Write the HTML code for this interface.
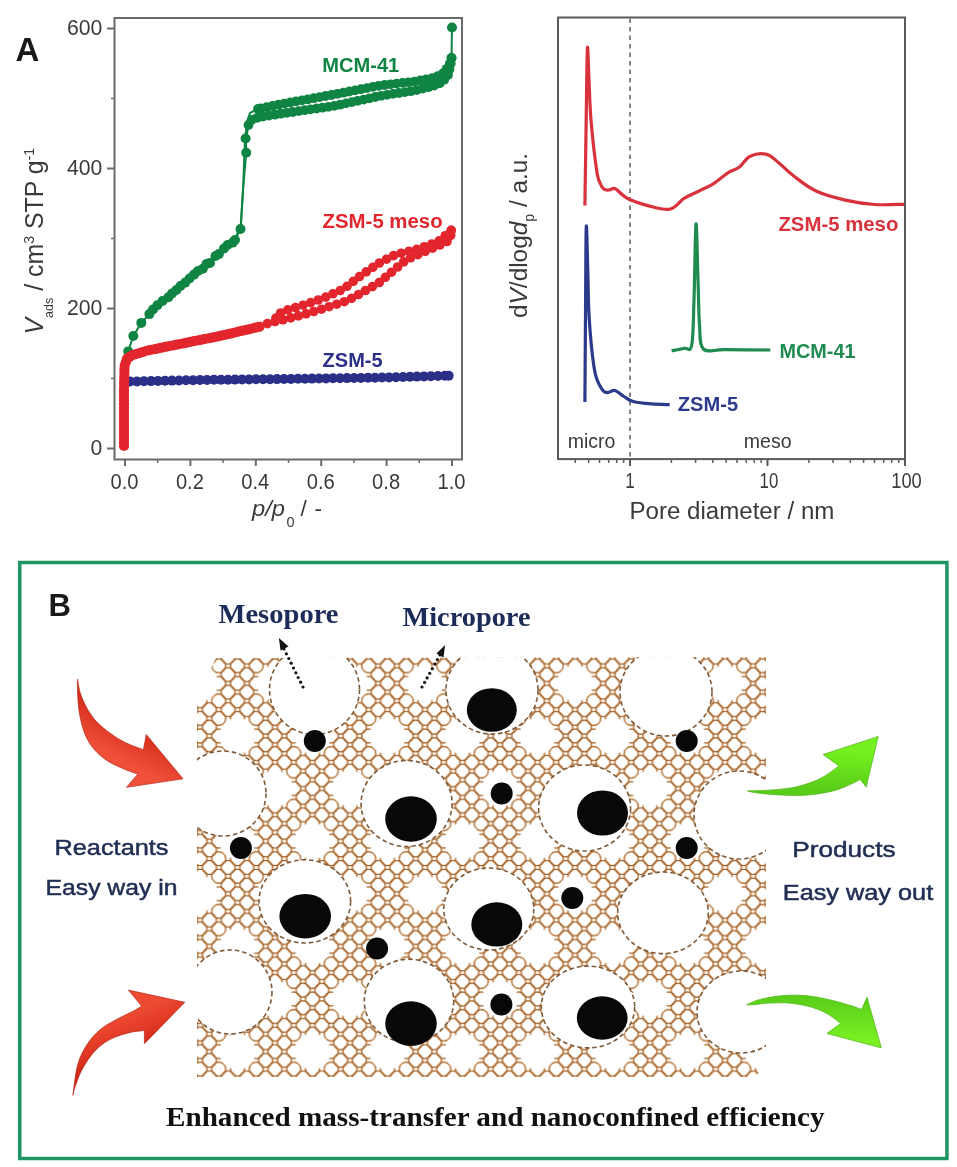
<!DOCTYPE html>
<html><head><meta charset="utf-8"><style>
html,body{margin:0;padding:0;background:#fff;width:957px;height:1167px;overflow:hidden;}
svg{display:block;filter:blur(0.35px);}
text{font-family:"Liberation Sans",sans-serif;}
.serif{font-family:"Liberation Serif",serif;}
</style></head><body>
<svg width="957" height="1167" viewBox="0 0 957 1167">
<defs><pattern id="mesh" patternUnits="userSpaceOnUse" x="387.5" y="736" width="75.0" height="105.2"><g fill="none" stroke="#f5c688" stroke-width="1.6"><circle cx="28.12" cy="-8.77" r="7.0"/><circle cx="46.88" cy="-8.77" r="7.0"/><circle cx="18.75" cy="0.00" r="7.0"/><circle cx="37.50" cy="0.00" r="7.0"/><circle cx="56.25" cy="0.00" r="7.0"/><circle cx="28.12" cy="8.77" r="7.0"/><circle cx="46.88" cy="8.77" r="7.0"/><circle cx="0.00" cy="17.53" r="7.0"/><circle cx="18.75" cy="17.53" r="7.0"/><circle cx="37.50" cy="17.53" r="7.0"/><circle cx="56.25" cy="17.53" r="7.0"/><circle cx="75.00" cy="17.53" r="7.0"/><circle cx="-9.38" cy="26.30" r="7.0"/><circle cx="9.38" cy="26.30" r="7.0"/><circle cx="28.12" cy="26.30" r="7.0"/><circle cx="46.88" cy="26.30" r="7.0"/><circle cx="65.62" cy="26.30" r="7.0"/><circle cx="84.38" cy="26.30" r="7.0"/><circle cx="0.00" cy="35.07" r="7.0"/><circle cx="18.75" cy="35.07" r="7.0"/><circle cx="37.50" cy="35.07" r="7.0"/><circle cx="56.25" cy="35.07" r="7.0"/><circle cx="75.00" cy="35.07" r="7.0"/><circle cx="-9.38" cy="43.83" r="7.0"/><circle cx="9.38" cy="43.83" r="7.0"/><circle cx="65.62" cy="43.83" r="7.0"/><circle cx="84.38" cy="43.83" r="7.0"/><circle cx="0.00" cy="52.60" r="7.0"/><circle cx="18.75" cy="52.60" r="7.0"/><circle cx="56.25" cy="52.60" r="7.0"/><circle cx="75.00" cy="52.60" r="7.0"/><circle cx="-9.38" cy="61.37" r="7.0"/><circle cx="9.38" cy="61.37" r="7.0"/><circle cx="65.62" cy="61.37" r="7.0"/><circle cx="84.38" cy="61.37" r="7.0"/><circle cx="0.00" cy="70.13" r="7.0"/><circle cx="18.75" cy="70.13" r="7.0"/><circle cx="37.50" cy="70.13" r="7.0"/><circle cx="56.25" cy="70.13" r="7.0"/><circle cx="75.00" cy="70.13" r="7.0"/><circle cx="-9.38" cy="78.90" r="7.0"/><circle cx="9.38" cy="78.90" r="7.0"/><circle cx="28.12" cy="78.90" r="7.0"/><circle cx="46.88" cy="78.90" r="7.0"/><circle cx="65.62" cy="78.90" r="7.0"/><circle cx="84.38" cy="78.90" r="7.0"/><circle cx="0.00" cy="87.67" r="7.0"/><circle cx="18.75" cy="87.67" r="7.0"/><circle cx="37.50" cy="87.67" r="7.0"/><circle cx="56.25" cy="87.67" r="7.0"/><circle cx="75.00" cy="87.67" r="7.0"/><circle cx="28.12" cy="96.43" r="7.0"/><circle cx="46.88" cy="96.43" r="7.0"/><circle cx="18.75" cy="105.20" r="7.0"/><circle cx="37.50" cy="105.20" r="7.0"/><circle cx="56.25" cy="105.20" r="7.0"/><circle cx="28.12" cy="113.97" r="7.0"/><circle cx="46.88" cy="113.97" r="7.0"/></g><g fill="none" stroke="#8c4a1e" stroke-width="0.95"><circle cx="28.12" cy="-8.77" r="7.0"/><circle cx="46.88" cy="-8.77" r="7.0"/><circle cx="18.75" cy="0.00" r="7.0"/><circle cx="37.50" cy="0.00" r="7.0"/><circle cx="56.25" cy="0.00" r="7.0"/><circle cx="28.12" cy="8.77" r="7.0"/><circle cx="46.88" cy="8.77" r="7.0"/><circle cx="0.00" cy="17.53" r="7.0"/><circle cx="18.75" cy="17.53" r="7.0"/><circle cx="37.50" cy="17.53" r="7.0"/><circle cx="56.25" cy="17.53" r="7.0"/><circle cx="75.00" cy="17.53" r="7.0"/><circle cx="-9.38" cy="26.30" r="7.0"/><circle cx="9.38" cy="26.30" r="7.0"/><circle cx="28.12" cy="26.30" r="7.0"/><circle cx="46.88" cy="26.30" r="7.0"/><circle cx="65.62" cy="26.30" r="7.0"/><circle cx="84.38" cy="26.30" r="7.0"/><circle cx="0.00" cy="35.07" r="7.0"/><circle cx="18.75" cy="35.07" r="7.0"/><circle cx="37.50" cy="35.07" r="7.0"/><circle cx="56.25" cy="35.07" r="7.0"/><circle cx="75.00" cy="35.07" r="7.0"/><circle cx="-9.38" cy="43.83" r="7.0"/><circle cx="9.38" cy="43.83" r="7.0"/><circle cx="65.62" cy="43.83" r="7.0"/><circle cx="84.38" cy="43.83" r="7.0"/><circle cx="0.00" cy="52.60" r="7.0"/><circle cx="18.75" cy="52.60" r="7.0"/><circle cx="56.25" cy="52.60" r="7.0"/><circle cx="75.00" cy="52.60" r="7.0"/><circle cx="-9.38" cy="61.37" r="7.0"/><circle cx="9.38" cy="61.37" r="7.0"/><circle cx="65.62" cy="61.37" r="7.0"/><circle cx="84.38" cy="61.37" r="7.0"/><circle cx="0.00" cy="70.13" r="7.0"/><circle cx="18.75" cy="70.13" r="7.0"/><circle cx="37.50" cy="70.13" r="7.0"/><circle cx="56.25" cy="70.13" r="7.0"/><circle cx="75.00" cy="70.13" r="7.0"/><circle cx="-9.38" cy="78.90" r="7.0"/><circle cx="9.38" cy="78.90" r="7.0"/><circle cx="28.12" cy="78.90" r="7.0"/><circle cx="46.88" cy="78.90" r="7.0"/><circle cx="65.62" cy="78.90" r="7.0"/><circle cx="84.38" cy="78.90" r="7.0"/><circle cx="0.00" cy="87.67" r="7.0"/><circle cx="18.75" cy="87.67" r="7.0"/><circle cx="37.50" cy="87.67" r="7.0"/><circle cx="56.25" cy="87.67" r="7.0"/><circle cx="75.00" cy="87.67" r="7.0"/><circle cx="28.12" cy="96.43" r="7.0"/><circle cx="46.88" cy="96.43" r="7.0"/><circle cx="18.75" cy="105.20" r="7.0"/><circle cx="37.50" cy="105.20" r="7.0"/><circle cx="56.25" cy="105.20" r="7.0"/><circle cx="28.12" cy="113.97" r="7.0"/><circle cx="46.88" cy="113.97" r="7.0"/></g><g fill="#fff"><circle cx="0" cy="0" r="18"/><circle cx="75" cy="0" r="18"/><circle cx="0" cy="105.2" r="18"/><circle cx="75" cy="105.2" r="18"/><circle cx="37.5" cy="52.6" r="18"/></g></pattern><linearGradient id="rg1" x1="0" y1="0" x2="1" y2="1"><stop offset="0" stop-color="#d62a1e"/><stop offset="0.5" stop-color="#f0462e"/><stop offset="1" stop-color="#e23a26"/></linearGradient><linearGradient id="gg1" x1="0" y1="0" x2="1" y2="1"><stop offset="0" stop-color="#5bd41a"/><stop offset="0.5" stop-color="#7df22a"/><stop offset="1" stop-color="#4fc814"/></linearGradient><clipPath id="meshclip"><path d="M216,658 L766,657 L766,1060 L756,1077 L197,1077 L197,702 L204,684 L211,668 Z"/></clipPath><linearGradient id="ra1g" x1="0.3" y1="0.2" x2="0.1" y2="0.6"><stop offset="0" stop-color="#cf2414"/><stop offset="1" stop-color="#f0503a"/></linearGradient><linearGradient id="ra2g" x1="0.2" y1="0.35" x2="0.35" y2="0.7"><stop offset="0" stop-color="#ee4a32"/><stop offset="1" stop-color="#d02616"/></linearGradient><linearGradient id="ga1g" x1="0.5" y1="0.2" x2="0.4" y2="0.9"><stop offset="0" stop-color="#76f01e"/><stop offset="1" stop-color="#58cc18"/></linearGradient><linearGradient id="ga2g" x1="0.5" y1="0" x2="0.5" y2="0.9"><stop offset="0" stop-color="#58cc18"/><stop offset="1" stop-color="#7cf224"/></linearGradient></defs>
<rect x="114.5" y="18" width="347.5" height="441.5" fill="none" stroke="#6a6a6a" stroke-width="2"/>
<line x1="107" y1="448.5" x2="114" y2="448.5" stroke="#6a6a6a" stroke-width="2"/>
<text x="102.3" y="454.9" text-anchor="end" font-size="22.5" fill="#3a3a3a" textLength="11.8" lengthAdjust="spacingAndGlyphs">0</text>
<line x1="107" y1="308.5" x2="114" y2="308.5" stroke="#6a6a6a" stroke-width="2"/>
<text x="102.3" y="314.9" text-anchor="end" font-size="22.5" fill="#3a3a3a" textLength="35.4" lengthAdjust="spacingAndGlyphs">200</text>
<line x1="107" y1="168.5" x2="114" y2="168.5" stroke="#6a6a6a" stroke-width="2"/>
<text x="102.3" y="174.9" text-anchor="end" font-size="22.5" fill="#3a3a3a" textLength="35.4" lengthAdjust="spacingAndGlyphs">400</text>
<line x1="107" y1="28.5" x2="114" y2="28.5" stroke="#6a6a6a" stroke-width="2"/>
<text x="102.3" y="34.9" text-anchor="end" font-size="22.5" fill="#3a3a3a" textLength="35.4" lengthAdjust="spacingAndGlyphs">600</text>
<line x1="111" y1="378.5" x2="114" y2="378.5" stroke="#6a6a6a" stroke-width="1.5"/>
<line x1="111" y1="238.5" x2="114" y2="238.5" stroke="#6a6a6a" stroke-width="1.5"/>
<line x1="111" y1="98.5" x2="114" y2="98.5" stroke="#6a6a6a" stroke-width="1.5"/>
<line x1="125.0" y1="460" x2="125.0" y2="466" stroke="#6a6a6a" stroke-width="2"/>
<text x="124.5" y="488.6" text-anchor="middle" font-size="22.5" fill="#3a3a3a" textLength="28" lengthAdjust="spacingAndGlyphs">0.0</text>
<line x1="157.7" y1="460" x2="157.7" y2="463" stroke="#6a6a6a" stroke-width="1.5"/>
<line x1="190.4" y1="460" x2="190.4" y2="466" stroke="#6a6a6a" stroke-width="2"/>
<text x="189.9" y="488.6" text-anchor="middle" font-size="22.5" fill="#3a3a3a" textLength="28" lengthAdjust="spacingAndGlyphs">0.2</text>
<line x1="223.1" y1="460" x2="223.1" y2="463" stroke="#6a6a6a" stroke-width="1.5"/>
<line x1="255.8" y1="460" x2="255.8" y2="466" stroke="#6a6a6a" stroke-width="2"/>
<text x="255.3" y="488.6" text-anchor="middle" font-size="22.5" fill="#3a3a3a" textLength="28" lengthAdjust="spacingAndGlyphs">0.4</text>
<line x1="288.5" y1="460" x2="288.5" y2="463" stroke="#6a6a6a" stroke-width="1.5"/>
<line x1="321.2" y1="460" x2="321.2" y2="466" stroke="#6a6a6a" stroke-width="2"/>
<text x="320.7" y="488.6" text-anchor="middle" font-size="22.5" fill="#3a3a3a" textLength="28" lengthAdjust="spacingAndGlyphs">0.6</text>
<line x1="353.9" y1="460" x2="353.9" y2="463" stroke="#6a6a6a" stroke-width="1.5"/>
<line x1="386.6" y1="460" x2="386.6" y2="466" stroke="#6a6a6a" stroke-width="2"/>
<text x="386.1" y="488.6" text-anchor="middle" font-size="22.5" fill="#3a3a3a" textLength="28" lengthAdjust="spacingAndGlyphs">0.8</text>
<line x1="419.3" y1="460" x2="419.3" y2="463" stroke="#6a6a6a" stroke-width="1.5"/>
<line x1="452.0" y1="460" x2="452.0" y2="466" stroke="#6a6a6a" stroke-width="2"/>
<text x="451.5" y="488.6" text-anchor="middle" font-size="22.5" fill="#3a3a3a" textLength="28" lengthAdjust="spacingAndGlyphs">1.0</text>
<text transform="translate(43,334.5) rotate(-90)" font-size="24.9" fill="#3a3a3a"><tspan font-style="italic">V</tspan><tspan font-size="12.5" dy="10">ads</tspan><tspan dy="-10"> / cm</tspan><tspan font-size="14" dy="-9">3</tspan><tspan dy="9"> STP g</tspan><tspan font-size="14" dy="-9">-1</tspan></text>
<text y="516" font-size="22.5" fill="#3a3a3a"><tspan x="252" font-style="italic" textLength="33" lengthAdjust="spacingAndGlyphs">p/p</tspan><tspan x="286.5" y="527" font-size="14.5">0</tspan><tspan x="300.5" y="516" textLength="9">/</tspan><tspan x="314.5">-</tspan></text>
<polyline points="130,381.5 200,380 300,378.8 380,377.6 448.7,375.7" fill="none" stroke="#2b2f88" stroke-width="5"/>
<g fill="#2b2f88"><circle cx="130.0" cy="381.5" r="5"/><circle cx="137.0" cy="381.4" r="5"/><circle cx="144.0" cy="381.2" r="5"/><circle cx="151.0" cy="381.1" r="5"/><circle cx="158.0" cy="380.9" r="5"/><circle cx="165.0" cy="380.8" r="5"/><circle cx="172.0" cy="380.6" r="5"/><circle cx="179.0" cy="380.5" r="5"/><circle cx="186.0" cy="380.3" r="5"/><circle cx="193.0" cy="380.2" r="5"/><circle cx="200.0" cy="380.0" r="5"/><circle cx="207.0" cy="379.9" r="5"/><circle cx="214.0" cy="379.8" r="5"/><circle cx="221.0" cy="379.7" r="5"/><circle cx="228.0" cy="379.7" r="5"/><circle cx="235.0" cy="379.6" r="5"/><circle cx="242.0" cy="379.5" r="5"/><circle cx="249.0" cy="379.4" r="5"/><circle cx="256.0" cy="379.3" r="5"/><circle cx="263.0" cy="379.2" r="5"/><circle cx="270.0" cy="379.2" r="5"/><circle cx="277.0" cy="379.1" r="5"/><circle cx="284.0" cy="379.0" r="5"/><circle cx="291.0" cy="378.9" r="5"/><circle cx="298.0" cy="378.8" r="5"/><circle cx="305.0" cy="378.7" r="5"/><circle cx="312.0" cy="378.6" r="5"/><circle cx="319.0" cy="378.5" r="5"/><circle cx="326.0" cy="378.4" r="5"/><circle cx="333.0" cy="378.3" r="5"/><circle cx="340.0" cy="378.2" r="5"/><circle cx="347.0" cy="378.1" r="5"/><circle cx="354.0" cy="378.0" r="5"/><circle cx="361.0" cy="377.9" r="5"/><circle cx="368.0" cy="377.8" r="5"/><circle cx="375.0" cy="377.7" r="5"/><circle cx="382.0" cy="377.5" r="5"/><circle cx="389.0" cy="377.4" r="5"/><circle cx="396.0" cy="377.2" r="5"/><circle cx="403.0" cy="377.0" r="5"/><circle cx="410.0" cy="376.8" r="5"/><circle cx="417.0" cy="376.6" r="5"/><circle cx="424.0" cy="376.4" r="5"/><circle cx="430.9" cy="376.2" r="5"/><circle cx="437.9" cy="376.0" r="5"/><circle cx="444.9" cy="375.8" r="5"/><circle cx="448.7" cy="375.7" r="5"/></g>
<polyline points="128.2,351.4 133.3,336 141.3,322.9 149.4,314.1 157.4,305.3 168.4,297.3 176.4,290 185.2,282.6 194,274.6 202.8,268.8 210,262.9 218.9,254.1 227.6,245 235,240 240.5,229" fill="none" stroke="#0f8443" stroke-width="2"/>
<polyline points="240.5,229 243,190 246.2,153 246,139 248.5,125 252,119.5 258,117.5 280,113.8 334,106 380,96 415,90.5 433,86 442,82.5 448,75 450.5,65 451.5,58" fill="none" stroke="#0f8443" stroke-width="2"/>
<polyline points="451.5,58 449,66 442,74.5 433,78 415,81.5 380,85.5 334,94.5 280,104.4 258,109 250,113 247,122 245,139 243,190 241,224 236,237 230,243" fill="none" stroke="#0f8443" stroke-width="2"/>
<line x1="451.5" y1="58" x2="452" y2="27.5" stroke="#0f8443" stroke-width="2"/>
<g fill="#0f8443"><circle cx="128.2" cy="351.4" r="5"/><circle cx="133.3" cy="336" r="5"/><circle cx="141.3" cy="322.9" r="5"/><circle cx="149.4" cy="314.1" r="5"/><circle cx="157.4" cy="305.3" r="5"/><circle cx="168.4" cy="297.3" r="5"/><circle cx="176.4" cy="290" r="5"/><circle cx="185.2" cy="282.6" r="5"/><circle cx="194" cy="274.6" r="5"/><circle cx="202.8" cy="268.8" r="5"/><circle cx="210" cy="262.9" r="5"/><circle cx="218.9" cy="254.1" r="5"/><circle cx="227.6" cy="245" r="5"/><circle cx="235" cy="240" r="5"/><circle cx="240.5" cy="229" r="5"/><circle cx="246.2" cy="152.7" r="5"/><circle cx="245.6" cy="138.5" r="5"/><circle cx="232.7" cy="242.6" r="5"/><circle cx="224" cy="248.5" r="5"/><circle cx="215.5" cy="256" r="5"/><circle cx="206.5" cy="264" r="5"/><circle cx="198" cy="271" r="5"/><circle cx="189.5" cy="278.5" r="5"/><circle cx="180.5" cy="286" r="5"/><circle cx="172" cy="293.5" r="5"/><circle cx="162.5" cy="301" r="5"/><circle cx="153" cy="309.5" r="5"/></g>
<g fill="#0f8443"><circle cx="248.5" cy="125.0" r="4.9"/><circle cx="251.7" cy="119.9" r="4.9"/><circle cx="257.2" cy="117.8" r="4.9"/><circle cx="263.1" cy="116.6" r="4.9"/><circle cx="269.0" cy="115.6" r="4.9"/><circle cx="274.9" cy="114.7" r="4.9"/><circle cx="280.8" cy="113.7" r="4.9"/><circle cx="286.8" cy="112.8" r="4.9"/><circle cx="292.7" cy="112.0" r="4.9"/><circle cx="298.7" cy="111.1" r="4.9"/><circle cx="304.6" cy="110.2" r="4.9"/><circle cx="310.5" cy="109.4" r="4.9"/><circle cx="316.5" cy="108.5" r="4.9"/><circle cx="322.4" cy="107.7" r="4.9"/><circle cx="328.3" cy="106.8" r="4.9"/><circle cx="334.3" cy="105.9" r="4.9"/><circle cx="340.1" cy="104.7" r="4.9"/><circle cx="346.0" cy="103.4" r="4.9"/><circle cx="351.9" cy="102.1" r="4.9"/><circle cx="357.7" cy="100.8" r="4.9"/><circle cx="363.6" cy="99.6" r="4.9"/><circle cx="369.5" cy="98.3" r="4.9"/><circle cx="375.3" cy="97.0" r="4.9"/><circle cx="381.2" cy="95.8" r="4.9"/><circle cx="387.1" cy="94.9" r="4.9"/><circle cx="393.1" cy="93.9" r="4.9"/><circle cx="399.0" cy="93.0" r="4.9"/><circle cx="404.9" cy="92.1" r="4.9"/><circle cx="410.8" cy="91.2" r="4.9"/><circle cx="416.7" cy="90.1" r="4.9"/><circle cx="422.6" cy="88.6" r="4.9"/><circle cx="428.4" cy="87.2" r="4.9"/><circle cx="434.1" cy="85.6" r="4.9"/><circle cx="439.7" cy="83.4" r="4.9"/><circle cx="444.2" cy="79.7" r="4.9"/><circle cx="448.0" cy="75.0" r="4.9"/><circle cx="449.4" cy="69.2" r="4.9"/><circle cx="450.7" cy="63.4" r="4.9"/><circle cx="451.5" cy="58.0" r="4.9"/></g>
<g fill="#0f8443"><circle cx="451.5" cy="58.0" r="4.9"/><circle cx="449.7" cy="63.7" r="4.9"/><circle cx="446.7" cy="68.8" r="4.9"/><circle cx="442.9" cy="73.4" r="4.9"/><circle cx="437.7" cy="76.2" r="4.9"/><circle cx="432.1" cy="78.2" r="4.9"/><circle cx="426.2" cy="79.3" r="4.9"/><circle cx="420.3" cy="80.5" r="4.9"/><circle cx="414.4" cy="81.6" r="4.9"/><circle cx="408.4" cy="82.3" r="4.9"/><circle cx="402.5" cy="82.9" r="4.9"/><circle cx="396.5" cy="83.6" r="4.9"/><circle cx="390.5" cy="84.3" r="4.9"/><circle cx="384.6" cy="85.0" r="4.9"/><circle cx="378.6" cy="85.8" r="4.9"/><circle cx="372.8" cy="86.9" r="4.9"/><circle cx="366.9" cy="88.1" r="4.9"/><circle cx="361.0" cy="89.2" r="4.9"/><circle cx="355.1" cy="90.4" r="4.9"/><circle cx="349.2" cy="91.5" r="4.9"/><circle cx="343.3" cy="92.7" r="4.9"/><circle cx="337.4" cy="93.8" r="4.9"/><circle cx="331.5" cy="95.0" r="4.9"/><circle cx="325.6" cy="96.0" r="4.9"/><circle cx="319.7" cy="97.1" r="4.9"/><circle cx="313.8" cy="98.2" r="4.9"/><circle cx="307.9" cy="99.3" r="4.9"/><circle cx="302.0" cy="100.4" r="4.9"/><circle cx="296.1" cy="101.4" r="4.9"/><circle cx="290.2" cy="102.5" r="4.9"/><circle cx="284.3" cy="103.6" r="4.9"/><circle cx="278.4" cy="104.7" r="4.9"/><circle cx="272.5" cy="106.0" r="4.9"/><circle cx="266.7" cy="107.2" r="4.9"/><circle cx="260.8" cy="108.4" r="4.9"/><circle cx="258.0" cy="109.0" r="4.9"/></g>
<circle cx="452" cy="27.5" r="5" fill="#0f8443"/>
<polyline points="124,446 124,420 124,390 124.5,366 127,358.5 133,355 138.2,353.5 147.6,350.5 185.2,343 222.9,335.4 260,326.6 270.4,322.4 280.9,320.3 301.8,315.1 322.7,308.8 347.8,300.5 364.5,291.1 379.1,282.7 393.8,270.2 406.3,259.7 423,252.4 439.7,245.1 450.2,239.9 451.2,230.4" fill="none" stroke="#e3262e" stroke-width="2"/>
<polyline points="451.2,230.4 450.2,231.5 437.6,242 416.7,249.3 395.8,254.5 381.2,261.8 368.7,270.2 358.2,277.5 343.6,289 322.7,298.4 301.8,305.7 282,311.5 276,318" fill="none" stroke="#e3262e" stroke-width="2"/>
<g fill="#e3262e"><circle cx="124.0" cy="446.0" r="5.1"/><circle cx="124.0" cy="442.5" r="5.1"/><circle cx="124.0" cy="439.0" r="5.1"/><circle cx="124.0" cy="435.5" r="5.1"/><circle cx="124.0" cy="432.0" r="5.1"/><circle cx="124.0" cy="428.5" r="5.1"/><circle cx="124.0" cy="425.0" r="5.1"/><circle cx="124.0" cy="421.5" r="5.1"/><circle cx="124.0" cy="418.0" r="5.1"/><circle cx="124.0" cy="414.5" r="5.1"/><circle cx="124.0" cy="411.0" r="5.1"/><circle cx="124.0" cy="407.5" r="5.1"/><circle cx="124.0" cy="404.0" r="5.1"/><circle cx="124.0" cy="400.5" r="5.1"/><circle cx="124.0" cy="397.0" r="5.1"/><circle cx="124.0" cy="393.5" r="5.1"/><circle cx="124.0" cy="390.0" r="5.1"/><circle cx="124.1" cy="386.5" r="5.1"/><circle cx="124.1" cy="383.0" r="5.1"/><circle cx="124.2" cy="379.5" r="5.1"/><circle cx="124.3" cy="376.0" r="5.1"/><circle cx="124.4" cy="372.5" r="5.1"/><circle cx="124.4" cy="369.0" r="5.1"/><circle cx="124.7" cy="365.5" r="5.1"/><circle cx="125.8" cy="362.2" r="5.1"/><circle cx="126.9" cy="358.9" r="5.1"/><circle cx="129.7" cy="356.9" r="5.1"/><circle cx="132.7" cy="355.2" r="5.1"/><circle cx="136.0" cy="354.1" r="5.1"/><circle cx="139.4" cy="353.1" r="5.1"/><circle cx="142.7" cy="352.1" r="5.1"/><circle cx="146.0" cy="351.0" r="5.1"/><circle cx="149.4" cy="350.1" r="5.1"/><circle cx="152.9" cy="349.5" r="5.1"/><circle cx="156.3" cy="348.8" r="5.1"/><circle cx="159.7" cy="348.1" r="5.1"/><circle cx="163.2" cy="347.4" r="5.1"/><circle cx="166.6" cy="346.7" r="5.1"/><circle cx="170.0" cy="346.0" r="5.1"/><circle cx="173.5" cy="345.3" r="5.1"/><circle cx="176.9" cy="344.7" r="5.1"/><circle cx="180.3" cy="344.0" r="5.1"/><circle cx="183.8" cy="343.3" r="5.1"/><circle cx="187.2" cy="342.6" r="5.1"/><circle cx="190.6" cy="341.9" r="5.1"/><circle cx="194.0" cy="341.2" r="5.1"/><circle cx="197.5" cy="340.5" r="5.1"/><circle cx="200.9" cy="339.8" r="5.1"/><circle cx="204.3" cy="339.1" r="5.1"/><circle cx="207.8" cy="338.5" r="5.1"/><circle cx="211.2" cy="337.8" r="5.1"/><circle cx="214.6" cy="337.1" r="5.1"/><circle cx="218.1" cy="336.4" r="5.1"/><circle cx="221.5" cy="335.7" r="5.1"/><circle cx="224.9" cy="334.9" r="5.1"/><circle cx="228.3" cy="334.1" r="5.1"/><circle cx="231.7" cy="333.3" r="5.1"/><circle cx="235.1" cy="332.5" r="5.1"/><circle cx="238.5" cy="331.7" r="5.1"/><circle cx="241.9" cy="330.9" r="5.1"/><circle cx="245.3" cy="330.1" r="5.1"/><circle cx="248.7" cy="329.3" r="5.1"/><circle cx="252.2" cy="328.5" r="5.1"/><circle cx="255.6" cy="327.7" r="5.1"/><circle cx="259.0" cy="326.8" r="5.1"/></g>
<g fill="#e3262e"><circle cx="260.0" cy="326.6" r="4.8"/><circle cx="267.4" cy="323.6" r="4.8"/><circle cx="275.1" cy="321.5" r="4.8"/><circle cx="282.9" cy="319.8" r="4.8"/><circle cx="290.7" cy="317.9" r="4.8"/><circle cx="298.4" cy="315.9" r="4.8"/><circle cx="306.1" cy="313.8" r="4.8"/><circle cx="313.8" cy="311.5" r="4.8"/><circle cx="321.5" cy="309.2" r="4.8"/><circle cx="329.1" cy="306.7" r="4.8"/><circle cx="336.7" cy="304.2" r="4.8"/><circle cx="344.3" cy="301.7" r="4.8"/><circle cx="351.5" cy="298.4" r="4.8"/><circle cx="358.5" cy="294.5" r="4.8"/><circle cx="365.5" cy="290.5" r="4.8"/><circle cx="372.4" cy="286.6" r="4.8"/><circle cx="379.3" cy="282.5" r="4.8"/><circle cx="385.4" cy="277.3" r="4.8"/><circle cx="391.5" cy="272.2" r="4.8"/><circle cx="397.6" cy="267.0" r="4.8"/><circle cx="403.7" cy="261.9" r="4.8"/><circle cx="410.6" cy="257.8" r="4.8"/><circle cx="417.9" cy="254.6" r="4.8"/><circle cx="425.2" cy="251.4" r="4.8"/><circle cx="432.5" cy="248.2" r="4.8"/><circle cx="439.9" cy="245.0" r="4.8"/><circle cx="447.0" cy="241.5" r="4.8"/><circle cx="450.7" cy="235.4" r="4.8"/><circle cx="451.2" cy="230.4" r="4.8"/></g>
<g fill="#e3262e"><circle cx="451.2" cy="230.4" r="4.8"/><circle cx="445.2" cy="235.7" r="4.8"/><circle cx="439.1" cy="240.8" r="4.8"/><circle cx="431.8" cy="244.0" r="4.8"/><circle cx="424.3" cy="246.7" r="4.8"/><circle cx="416.7" cy="249.3" r="4.8"/><circle cx="409.0" cy="251.2" r="4.8"/><circle cx="401.2" cy="253.2" r="4.8"/><circle cx="393.6" cy="255.6" r="4.8"/><circle cx="386.5" cy="259.2" r="4.8"/><circle cx="379.4" cy="263.0" r="4.8"/><circle cx="372.8" cy="267.4" r="4.8"/><circle cx="366.2" cy="271.9" r="4.8"/><circle cx="359.6" cy="276.5" r="4.8"/><circle cx="353.3" cy="281.4" r="4.8"/><circle cx="347.0" cy="286.3" r="4.8"/><circle cx="340.2" cy="290.5" r="4.8"/><circle cx="332.9" cy="293.8" r="4.8"/><circle cx="325.7" cy="297.1" r="4.8"/><circle cx="318.2" cy="300.0" r="4.8"/><circle cx="310.7" cy="302.6" r="4.8"/><circle cx="303.1" cy="305.2" r="4.8"/><circle cx="295.4" cy="307.6" r="4.8"/><circle cx="287.8" cy="309.8" r="4.8"/><circle cx="280.6" cy="313.0" r="4.8"/><circle cx="276.0" cy="318.0" r="4.8"/></g>
<text x="322.3" y="71.5" font-size="20" font-weight="bold" fill="#0f8443" textLength="77" lengthAdjust="spacingAndGlyphs">MCM-41</text>
<text x="322.6" y="228" font-size="20" font-weight="bold" fill="#e3262e" textLength="120" lengthAdjust="spacingAndGlyphs">ZSM-5 meso</text>
<text x="322.6" y="367.3" font-size="20" font-weight="bold" fill="#2b2f88" textLength="60" lengthAdjust="spacingAndGlyphs">ZSM-5</text>
<text x="15.5" y="61.3" font-size="33" font-weight="bold" fill="#1a1a1a">A</text>
<rect x="558" y="17.5" width="347" height="441.6" fill="none" stroke="#5a5a5a" stroke-width="2"/>
<line x1="630" y1="18.5" x2="630" y2="458" stroke="#666" stroke-width="1.6" stroke-dasharray="4.5,4"/>
<line x1="575.3" y1="459" x2="575.3" y2="463" stroke="#5a5a5a" stroke-width="1.5"/>
<line x1="588.6" y1="459" x2="588.6" y2="463" stroke="#5a5a5a" stroke-width="1.5"/>
<line x1="599.5" y1="459" x2="599.5" y2="463" stroke="#5a5a5a" stroke-width="1.5"/>
<line x1="608.7" y1="459" x2="608.7" y2="463" stroke="#5a5a5a" stroke-width="1.5"/>
<line x1="616.7" y1="459" x2="616.7" y2="463" stroke="#5a5a5a" stroke-width="1.5"/>
<line x1="623.7" y1="459" x2="623.7" y2="463" stroke="#5a5a5a" stroke-width="1.5"/>
<line x1="630.0" y1="459" x2="630.0" y2="466" stroke="#5a5a5a" stroke-width="2"/>
<line x1="671.4" y1="459" x2="671.4" y2="463" stroke="#5a5a5a" stroke-width="1.5"/>
<line x1="695.6" y1="459" x2="695.6" y2="463" stroke="#5a5a5a" stroke-width="1.5"/>
<line x1="712.8" y1="459" x2="712.8" y2="463" stroke="#5a5a5a" stroke-width="1.5"/>
<line x1="726.1" y1="459" x2="726.1" y2="463" stroke="#5a5a5a" stroke-width="1.5"/>
<line x1="737.0" y1="459" x2="737.0" y2="463" stroke="#5a5a5a" stroke-width="1.5"/>
<line x1="746.2" y1="459" x2="746.2" y2="463" stroke="#5a5a5a" stroke-width="1.5"/>
<line x1="754.2" y1="459" x2="754.2" y2="463" stroke="#5a5a5a" stroke-width="1.5"/>
<line x1="761.2" y1="459" x2="761.2" y2="463" stroke="#5a5a5a" stroke-width="1.5"/>
<line x1="767.5" y1="459" x2="767.5" y2="466" stroke="#5a5a5a" stroke-width="2"/>
<line x1="808.9" y1="459" x2="808.9" y2="463" stroke="#5a5a5a" stroke-width="1.5"/>
<line x1="833.1" y1="459" x2="833.1" y2="463" stroke="#5a5a5a" stroke-width="1.5"/>
<line x1="850.3" y1="459" x2="850.3" y2="463" stroke="#5a5a5a" stroke-width="1.5"/>
<line x1="863.6" y1="459" x2="863.6" y2="463" stroke="#5a5a5a" stroke-width="1.5"/>
<line x1="874.5" y1="459" x2="874.5" y2="463" stroke="#5a5a5a" stroke-width="1.5"/>
<line x1="883.7" y1="459" x2="883.7" y2="463" stroke="#5a5a5a" stroke-width="1.5"/>
<line x1="891.7" y1="459" x2="891.7" y2="463" stroke="#5a5a5a" stroke-width="1.5"/>
<line x1="898.7" y1="459" x2="898.7" y2="463" stroke="#5a5a5a" stroke-width="1.5"/>
<line x1="905" y1="459" x2="905" y2="466" stroke="#5a5a5a" stroke-width="2"/>
<text x="630.0" y="487.5" text-anchor="middle" font-size="22.5" fill="#3a3a3a" textLength="9.5" lengthAdjust="spacingAndGlyphs">1</text>
<text x="769.0" y="487.5" text-anchor="middle" font-size="22.5" fill="#3a3a3a" textLength="18.8" lengthAdjust="spacingAndGlyphs">10</text>
<text x="906.5" y="487.5" text-anchor="middle" font-size="22.5" fill="#3a3a3a" textLength="30.5" lengthAdjust="spacingAndGlyphs">100</text>
<text x="629.4" y="519" font-size="23.5" fill="#3a3a3a" textLength="205" lengthAdjust="spacingAndGlyphs">Pore diameter / nm</text>
<text x="567.7" y="447.5" font-size="19.5" fill="#3a3a3a">micro</text>
<text x="743.8" y="448" font-size="19.5" fill="#3a3a3a">meso</text>
<text transform="translate(527,318) rotate(-90)" font-size="24.4" fill="#3a3a3a">d<tspan font-style="italic">V</tspan>/dlog<tspan font-style="italic">d</tspan><tspan font-size="14" dy="7">p</tspan><tspan dy="-7"> / a.u.</tspan></text>
<path d="M584.9,205.6 C585.1,191.3 585.8,146.2 586.2,120.0 C586.6,93.8 586.9,55.0 587.4,48.3 C587.9,41.6 588.4,67.8 589.0,80.0 C589.6,92.2 589.8,106.4 591.1,121.4 C592.4,136.4 595.1,159.7 596.6,170.0 C598.1,180.3 598.8,179.8 600.0,183.0 C601.2,186.2 602.4,187.9 603.9,189.1 C605.4,190.3 607.2,190.1 609.0,190.0 C610.8,189.9 612.7,187.7 614.9,188.5 C617.1,189.3 619.8,192.8 622.2,194.6 C624.6,196.4 625.2,197.7 629.5,199.5 C633.8,201.3 641.1,204.0 647.8,205.6 C654.5,207.2 663.6,210.4 669.7,209.2 C675.8,208.0 679.5,201.2 684.4,198.2 C689.3,195.2 694.1,193.4 699.0,191.0 C703.9,188.6 708.7,186.7 713.6,183.6 C718.5,180.5 724.0,175.3 728.3,172.6 C732.6,169.9 735.6,169.9 739.2,167.2 C742.9,164.5 745.6,158.3 750.2,156.2 C754.8,154.1 761.8,153.2 766.7,154.4 C771.6,155.6 774.9,159.8 779.5,163.5 C784.1,167.2 788.0,171.7 794.1,176.3 C800.2,180.9 807.5,187.0 816.0,191.0 C824.5,195.0 835.5,197.8 845.3,200.1 C855.1,202.3 864.8,203.8 874.6,204.5 C884.4,205.2 899.1,204.3 904.0,204.3" fill="none" stroke="#d8333c" stroke-width="3.2" stroke-linejoin="round"/>
<path d="M584.9,402.0 C585.0,385.0 585.4,329.2 585.6,300.0 C585.8,270.8 585.9,231.5 586.3,226.5 C586.7,221.5 587.3,254.5 587.8,270.0 C588.3,285.5 588.1,302.9 589.3,319.7 C590.4,336.5 592.6,359.4 594.7,371.0 C596.8,382.6 599.9,385.6 602.0,389.2 C604.1,392.8 605.4,392.4 607.5,392.6 C609.6,392.8 612.1,389.9 614.9,390.5 C617.6,391.1 621.0,394.7 624.0,396.5 C627.0,398.3 628.6,400.3 633.2,401.5 C637.8,402.7 645.3,403.4 651.4,403.9 C657.5,404.4 666.7,404.5 669.7,404.6" fill="none" stroke="#2c3a8c" stroke-width="3.2" stroke-linejoin="round"/>
<path d="M671.6,350.8 C673.7,350.4 681.0,349.2 684.4,348.3 C687.8,347.4 690.1,353.4 691.7,345.3 C693.3,337.2 693.3,320.2 694.0,300.0 C694.7,279.8 695.3,227.2 696.0,223.9 C696.7,220.6 697.4,263.1 698.0,280.0 C698.6,296.9 698.6,313.5 699.5,325.0 C700.4,336.5 699.2,344.9 703.4,349.0 C707.6,353.1 713.5,349.5 724.6,349.7 C735.8,349.9 762.7,349.9 770.3,350.0" fill="none" stroke="#1f8b50" stroke-width="3.2" stroke-linejoin="round"/>
<text x="778.4" y="231" font-size="20" font-weight="bold" fill="#d8333c" textLength="120" lengthAdjust="spacingAndGlyphs">ZSM-5 meso</text>
<text x="779.5" y="358" font-size="20" font-weight="bold" fill="#1f8b50" textLength="76" lengthAdjust="spacingAndGlyphs">MCM-41</text>
<text x="677.8" y="411" font-size="20" font-weight="bold" fill="#2c3a8c" textLength="60.3" lengthAdjust="spacingAndGlyphs">ZSM-5</text>
<rect x="19.75" y="562.5" width="927.2" height="596" fill="none" stroke="#1e9564" stroke-width="3.5"/>
<text x="48.5" y="616.3" font-size="31" font-weight="bold" fill="#1a1a1a">B</text>
<path d="M216,658 L766,657 L766,1060 L756,1077 L197,1077 L197,702 L204,684 L211,668 Z" fill="url(#mesh)"/>
<g clip-path="url(#meshclip)">
<ellipse cx="314.5" cy="689.5" rx="45" ry="45" fill="#fff" stroke="#7e5a38" stroke-width="1.6" stroke-dasharray="4.5,3"/>
<ellipse cx="492" cy="690" rx="46" ry="44" fill="#fff" stroke="#7e5a38" stroke-width="1.6" stroke-dasharray="4.5,3"/>
<ellipse cx="666" cy="692" rx="46" ry="44" fill="#fff" stroke="#7e5a38" stroke-width="1.6" stroke-dasharray="4.5,3"/>
<ellipse cx="223" cy="793.5" rx="43" ry="42.5" fill="#fff" stroke="#7e5a38" stroke-width="1.6" stroke-dasharray="4.5,3"/>
<ellipse cx="406.6" cy="803.5" rx="45.5" ry="43" fill="#fff" stroke="#7e5a38" stroke-width="1.6" stroke-dasharray="4.5,3"/>
<ellipse cx="584.6" cy="808" rx="46" ry="43" fill="#fff" stroke="#7e5a38" stroke-width="1.6" stroke-dasharray="4.5,3"/>
<ellipse cx="739" cy="815" rx="45" ry="44" fill="#fff" stroke="#7e5a38" stroke-width="1.6" stroke-dasharray="4.5,3"/>
<ellipse cx="304.8" cy="901.4" rx="45.8" ry="41.6" fill="#fff" stroke="#7e5a38" stroke-width="1.6" stroke-dasharray="4.5,3"/>
<ellipse cx="488.8" cy="909" rx="45" ry="41" fill="#fff" stroke="#7e5a38" stroke-width="1.6" stroke-dasharray="4.5,3"/>
<ellipse cx="663" cy="912.8" rx="45.3" ry="40.8" fill="#fff" stroke="#7e5a38" stroke-width="1.6" stroke-dasharray="4.5,3"/>
<ellipse cx="230" cy="992" rx="42" ry="42" fill="#fff" stroke="#7e5a38" stroke-width="1.6" stroke-dasharray="4.5,3"/>
<ellipse cx="409" cy="1001" rx="44.7" ry="41.7" fill="#fff" stroke="#7e5a38" stroke-width="1.6" stroke-dasharray="4.5,3"/>
<ellipse cx="588" cy="1007" rx="46.7" ry="40.9" fill="#fff" stroke="#7e5a38" stroke-width="1.6" stroke-dasharray="4.5,3"/>
<ellipse cx="741" cy="1012" rx="44" ry="41" fill="#fff" stroke="#7e5a38" stroke-width="1.6" stroke-dasharray="4.5,3"/>
</g>
<ellipse cx="491.8" cy="710" rx="25" ry="21.8" fill="#080808"/>
<ellipse cx="411" cy="819" rx="25.8" ry="22.7" fill="#080808"/>
<ellipse cx="602.5" cy="813" rx="25.5" ry="22.6" fill="#080808"/>
<ellipse cx="305.2" cy="916.2" rx="25.8" ry="22.3" fill="#080808"/>
<ellipse cx="496.8" cy="924.4" rx="25.5" ry="22.2" fill="#080808"/>
<ellipse cx="411" cy="1023.6" rx="25.8" ry="22.4" fill="#080808"/>
<ellipse cx="602.2" cy="1018" rx="25.4" ry="21.7" fill="#080808"/>
<circle cx="314.8" cy="741" r="11" fill="#080808"/>
<circle cx="686.7" cy="741" r="11" fill="#080808"/>
<circle cx="501.7" cy="793.5" r="11" fill="#080808"/>
<circle cx="240.9" cy="848" r="11" fill="#080808"/>
<circle cx="686.7" cy="848" r="11" fill="#080808"/>
<circle cx="572.3" cy="898" r="11" fill="#080808"/>
<circle cx="377.1" cy="948.5" r="11" fill="#080808"/>
<circle cx="501.4" cy="1004.5" r="11" fill="#080808"/>
<text x="218.5" y="622.7" class="serif" font-size="28" font-weight="bold" fill="#1c2b57" textLength="120" lengthAdjust="spacingAndGlyphs">Mesopore</text>
<text x="402.5" y="625.5" class="serif" font-size="28" font-weight="bold" fill="#1c2b57" textLength="128" lengthAdjust="spacingAndGlyphs">Micropore</text>
<g fill="#111"><circle cx="303.0" cy="687.0" r="1.6"/><circle cx="300.6" cy="682.2" r="1.6"/><circle cx="298.2" cy="677.5" r="1.6"/><circle cx="295.9" cy="672.8" r="1.6"/><circle cx="293.5" cy="668.0" r="1.6"/><circle cx="291.1" cy="663.2" r="1.6"/><circle cx="288.8" cy="658.5" r="1.6"/><circle cx="286.4" cy="653.8" r="1.6"/><circle cx="284.0" cy="649.0" r="1.6"/><polygon points="278.9,638 288.5,646.5 280.5,650.5"/></g>
<g fill="#111"><circle cx="422.0" cy="687.0" r="1.6"/><circle cx="424.6" cy="682.4" r="1.6"/><circle cx="427.1" cy="677.9" r="1.6"/><circle cx="429.7" cy="673.3" r="1.6"/><circle cx="432.3" cy="668.7" r="1.6"/><circle cx="434.9" cy="664.1" r="1.6"/><circle cx="437.4" cy="659.6" r="1.6"/><circle cx="440.0" cy="655.0" r="1.6"/><polygon points="445.1,645 443.5,657.5 436.5,653.5"/></g>
<text x="54.5" y="854.6" font-size="22.5" fill="#1f2d52" stroke="#1f2d52" stroke-width="0.5" textLength="114" lengthAdjust="spacingAndGlyphs">Reactants</text>
<text x="45.6" y="894.6" font-size="22.5" fill="#1f2d52" stroke="#1f2d52" stroke-width="0.5" textLength="131.8" lengthAdjust="spacingAndGlyphs">Easy way in</text>
<text x="792.2" y="857.2" font-size="22.5" fill="#1f2d52" stroke="#1f2d52" stroke-width="0.5" textLength="103.4" lengthAdjust="spacingAndGlyphs">Products</text>
<text x="782.8" y="900" font-size="22.5" fill="#1f2d52" stroke="#1f2d52" stroke-width="0.5" textLength="150.4" lengthAdjust="spacingAndGlyphs">Easy way out</text>
<text x="166" y="1126" class="serif" font-size="27.5" font-weight="bold" fill="#111" textLength="658.5" lengthAdjust="spacingAndGlyphs">Enhanced mass-transfer and nanoconfined efficiency</text>
<path d="M77.6,679.2 C78.1,681.6 78.8,688.4 80.4,693.3 C82.0,698.1 84.3,703.6 87.0,708.3 C89.7,713.0 92.6,717.4 96.4,721.5 C100.2,725.6 104.9,729.3 109.6,732.8 C114.3,736.2 119.0,739.4 124.6,742.2 C130.2,745.0 140.3,748.5 143.4,749.7 L146.3,734.6 L183.0,778.8 L126.5,787.3 L137.8,774.1 L137.8,774.1 C135.3,773.2 127.8,770.7 122.8,768.5 C117.8,766.3 112.4,764.1 107.7,761.0 C103.0,757.9 98.3,754.1 94.5,749.7 C90.7,745.3 87.6,740.6 85.1,734.6 C82.6,728.6 80.8,720.8 79.5,713.9 C78.2,707.0 77.9,699.1 77.6,693.3 C77.3,687.5 77.6,681.6 77.6,679.2 Z" fill="url(#ra1g)" stroke="#b5281a" stroke-width="0.7" stroke-linejoin="round"/>
<path d="M72.9,1095.4 C73.7,1090.3 75.2,1073.5 77.6,1065.0 C79.9,1056.5 83.2,1050.5 87.0,1044.6 C90.8,1038.7 95.5,1033.7 100.2,1029.6 C104.9,1025.5 109.6,1023.3 115.2,1020.2 C120.8,1017.1 129.6,1013.1 134.0,1010.8 C138.4,1008.4 140.3,1006.9 141.6,1006.1 L128.4,990.1 L184.8,1002.3 L144.4,1043.7 L144.4,1030.5 L144.4,1030.5 C142.1,1030.8 135.2,1031.3 130.3,1032.4 C125.4,1033.5 119.9,1035.1 115.2,1037.1 C110.5,1039.1 106.1,1041.5 102.0,1044.6 C97.9,1047.7 94.2,1051.5 90.8,1055.9 C87.4,1060.3 84.1,1065.6 81.4,1070.9 C78.7,1076.2 76.2,1083.7 74.8,1087.8 C73.4,1091.9 73.2,1094.1 72.9,1095.4 Z" fill="url(#ra2g)" stroke="#b5281a" stroke-width="0.7" stroke-linejoin="round"/>
<path d="M747.3,790.9 C750.7,790.8 760.5,790.7 767.7,790.2 C774.9,789.7 783.7,789.0 790.5,787.9 C797.3,786.8 803.1,785.2 808.6,783.3 C814.1,781.4 818.8,779.4 823.8,776.5 C828.8,773.6 836.4,767.7 838.9,765.9 L823.0,754.5 L878.3,736.4 L866.2,787.1 L860.2,779.5 L860.2,779.5 C858.7,780.3 855.2,782.3 851.1,784.1 C847.0,785.9 841.5,788.6 835.9,790.2 C830.3,791.8 824.0,793.0 817.7,793.9 C811.4,794.8 805.1,795.4 798.0,795.5 C790.9,795.6 782.1,795.1 775.3,794.7 C768.5,794.3 761.8,793.5 757.1,792.9 C752.4,792.3 748.9,791.2 747.3,790.9 Z" fill="url(#ga1g)" stroke="#52b41c" stroke-width="0.7" stroke-linejoin="round"/>
<path d="M746.5,1004.7 C748.8,1003.8 754.1,1000.9 760.2,999.4 C766.3,997.9 775.3,996.2 782.9,995.6 C790.5,995.0 798.0,995.0 805.6,995.6 C813.2,996.2 821.2,997.9 828.3,999.4 C835.4,1000.9 842.4,1003.1 848.0,1004.7 C853.6,1006.3 859.4,1008.5 861.7,1009.2 L867.0,997.1 L881.4,1047.9 L826.8,1033.5 L840.5,1023.6 L840.5,1023.6 C838.7,1022.2 834.3,1017.9 829.8,1015.3 C825.2,1012.6 819.8,1009.7 813.2,1007.7 C806.7,1005.7 798.1,1004.0 790.5,1003.2 C782.9,1002.5 773.8,1003.0 767.7,1003.2 C761.6,1003.5 757.6,1004.5 754.1,1004.7 C750.6,1005.0 747.8,1004.7 746.5,1004.7 Z" fill="url(#ga2g)" stroke="#52b41c" stroke-width="0.7" stroke-linejoin="round"/>
</svg></body></html>
